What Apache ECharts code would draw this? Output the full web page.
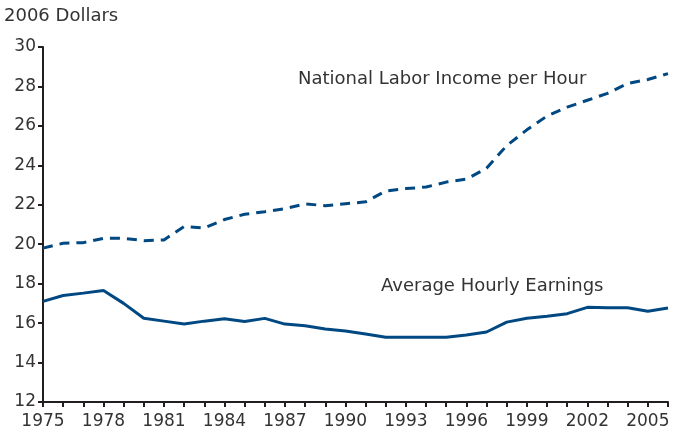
<!DOCTYPE html>
<html>
<head>
<meta charset="utf-8">
<script src="https://cdn.jsdelivr.net/npm/echarts@6/dist/echarts.min.js"></script>
<style>
  html, body { margin: 0; padding: 0; background: #fff; }
  #chart { width: 681px; height: 433px; }
</style>
</head>
<body>
<div id="chart"></div>
<script>
var years = [];
for (var y = 1975; y <= 2006; y++) years.push(String(y));

// National Labor Income per Hour (2006 dollars)
var laborIncome = [19.8, 20.05, 20.08, 20.3, 20.3, 20.18, 20.22, 20.9, 20.82, 21.25,
    21.52, 21.65, 21.8, 22.05, 21.95, 22.05, 22.15, 22.7, 22.82, 22.9,
    23.15, 23.3, 23.85, 25.0, 25.8, 26.5, 26.95, 27.3, 27.65, 28.15,
    28.35, 28.65];

// Average Hourly Earnings (2006 dollars)
var hourlyEarnings = [17.1, 17.4, 17.52, 17.65, 17.0, 16.25, 16.1, 15.95, 16.1, 16.22,
    16.08, 16.24, 15.95, 15.87, 15.7, 15.6, 15.45, 15.28, 15.28, 15.28,
    15.28, 15.4, 15.55, 16.05, 16.25, 16.35, 16.48, 16.8, 16.78, 16.78,
    16.6, 16.77];

var navy = '#004882';
var ink = '#231f20';
var font = 'DejaVu Sans';

var chart = echarts.init(document.getElementById('chart'));
chart.setOption({
    animation: false,
    grid: {left: 43, right: 13, top: 47, bottom: 31},
    xAxis: {
        type: 'category',
        data: years,
        boundaryGap: false,
        axisLine: {lineStyle: {color: ink, width: 2}},
        axisTick: {show: true, interval: 0, length: 5, lineStyle: {color: ink, width: 2}},
        axisLabel: {
            interval: 2,
            color: '#333',
            fontFamily: font,
            fontSize: 17,
            margin: 11
        },
        splitLine: {show: false}
    },
    yAxis: {
        type: 'value',
        min: 12,
        max: 30,
        interval: 2,
        axisLine: {show: true, lineStyle: {color: ink, width: 2}},
        axisTick: {show: true, length: 5, lineStyle: {color: ink, width: 2}},
        axisLabel: {color: '#333', fontFamily: font, fontSize: 17, margin: 7},
        splitLine: {show: false}
    },
    series: [
        {
            name: 'National Labor Income per Hour',
            type: 'line',
            data: laborIncome,
            symbol: 'none',
            lineStyle: {color: navy, width: 3, type: [10, 7]}
        },
        {
            name: 'Average Hourly Earnings',
            type: 'line',
            data: hourlyEarnings,
            symbol: 'none',
            lineStyle: {color: navy, width: 3}
        }
    ],
    graphic: [
        {
            type: 'text', left: 4, top: 7,
            style: {text: '2006 Dollars', fill: '#333', font: '18px "DejaVu Sans"'}
        },
        {
            type: 'text', left: 298, top: 70,
            style: {text: 'National Labor Income per Hour', fill: '#333', font: '18px "DejaVu Sans"'}
        },
        {
            type: 'text', left: 381, top: 277,
            style: {text: 'Average Hourly Earnings', fill: '#333', font: '18px "DejaVu Sans"'}
        }
    ]
});
</script>
</body>
</html>
